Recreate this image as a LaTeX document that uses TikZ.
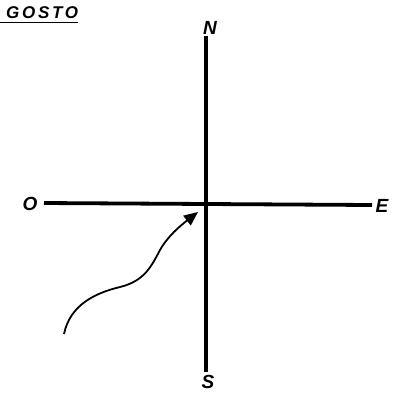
\documentclass[tikz,border=0pt]{standalone}
\usepackage{fontspec}
\setmainfont{Liberation Sans}
\newfontfamily\ttlfont[LetterSpace=16]{Liberation Sans}
\usepackage{tikz}
\usetikzlibrary{arrows.meta, positioning}
\tikzset{
  axlbl/.style={font=\fontsize{19}{21}\selectfont\bfseries\itshape, inner sep=0pt},
  axis/.style={line width=3.8pt},
  arr/.style={-{Triangle[length=14pt, width=12pt]}, line width=1.8pt}
}

\begin{document}
\begin{tikzpicture}[x=1pt, y=-1pt]
\useasboundingbox (0,0) rectangle (395,392);

% Title
\node[axlbl, font=\ttlfont\fontsize{17}{19}\selectfont\bfseries\itshape, anchor=west] (title) at (6,13) {GOSTO};
\draw[line width=1.6pt] (0,22.5) -- (title.east |- 0,22.5);

% Axis ends
\node[axlbl] (n) at (210,28) {N};
\node[axlbl] (s) at (208,382) {S};
\node[axlbl] (o) at (30,204) {O};
\node[axlbl] (e) at (382,206) {E};

% Axes
\draw[axis] (206,36) -- (206,372);
\draw[axis] (44,203) -- (372,205);

% Curved arrow towards the centre
\coordinate (start) at (64,334);
\coordinate (tip) at (198,212);
\draw[arr] (start) .. controls (70,305) and (95,293) .. (120,287)
  .. controls (145,281) and (152,265) .. (160,250)
  .. controls (168,236) and (180,226) .. (tip);

\end{tikzpicture}
\end{document}
